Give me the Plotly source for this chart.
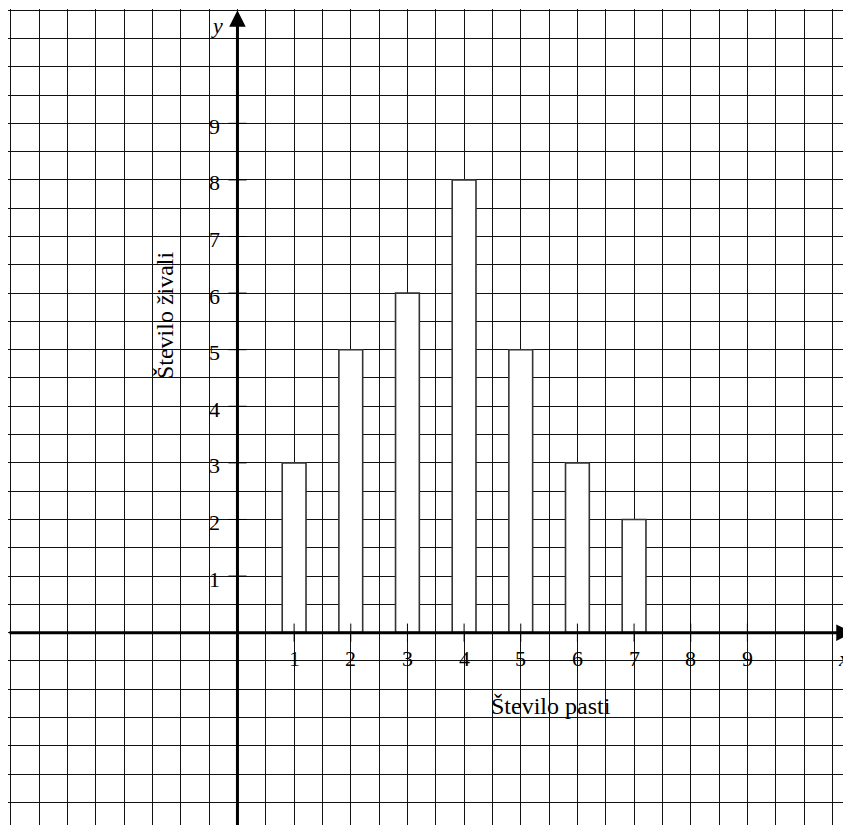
import plotly.graph_objects as go

# data
traps = [1, 2, 3, 4, 5, 6, 7]
animals = [3, 5, 6, 8, 5, 3, 2]
tick_labels = ["1", "2", "3", "4", "5", "6", "7", "8", "9"]
tick_pos = [1, 2, 3, 4, 5, 6, 7, 8, 9]

x_title = "Število pasti"
y_title = "Število živali"

# page has an 8px body margin, so the plot starts at page x=8, y=9
x_range = [-4.05, 10.97]
y_range = [-3.54, 11.02]

serif = "Liberation Serif, DejaVu Serif, serif"

fig = go.Figure()

fig.add_trace(go.Bar(
    x=traps, y=animals, width=0.42,
    marker=dict(color="white", line=dict(color="#333", width=1.6)),
    hoverinfo="x+y",
))

# small tick marks crossing the axes
fig.add_trace(go.Scatter(
    x=tick_pos, y=[0] * len(tick_pos), mode="markers",
    marker=dict(symbol="line-ns", size=13, line=dict(color="black", width=1)),
    hoverinfo="skip",
))
fig.add_trace(go.Scatter(
    x=[0] * len(tick_pos), y=tick_pos, mode="markers",
    marker=dict(symbol="line-ew", size=13, line=dict(color="black", width=1)),
    hoverinfo="skip",
))

annotations = []

# axes with arrows
annotations.append(dict(x=0, y=11.0, ax=0, ay=y_range[0], xref="x", yref="y",
                        axref="x", ayref="y", text="", showarrow=True,
                        arrowhead=2, arrowsize=1.1, arrowwidth=3, arrowcolor="black"))
annotations.append(dict(x=10.86, y=0, ax=x_range[0], ay=0, xref="x", yref="y",
                        axref="x", ayref="y", text="", showarrow=True,
                        arrowhead=2, arrowsize=1.1, arrowwidth=3, arrowcolor="black"))

# tick labels
for p, t in zip(tick_pos, tick_labels):
    annotations.append(dict(x=p, y=0, text=t, showarrow=False, yshift=-26,
                            font=dict(family=serif, size=22, color="black")))
    annotations.append(dict(x=0, y=p, text=t, showarrow=False, xshift=-23, yshift=-3,
                            font=dict(family=serif, size=22, color="black")))

# axis titles
annotations.append(dict(x=5.54, y=-1.30, text=x_title, showarrow=False,
                        font=dict(family=serif, size=24, color="black")))
annotations.append(dict(x=-1.28, y=5.61, text=y_title, showarrow=False, textangle=-90,
                        font=dict(family=serif, size=24, color="black")))
annotations.append(dict(x=-0.36, y=10.73, text="<i>y</i>", showarrow=False,
                        font=dict(family=serif, size=22, color="black")))
annotations.append(dict(x=10.7, y=-0.45, text="<i>x</i>", showarrow=False,
                        font=dict(family=serif, size=22, color="black")))

fig.update_layout(
    width=851, height=825,
    margin=dict(l=0, t=1, r=0, b=0),
    paper_bgcolor="white", plot_bgcolor="white",
    showlegend=False,
    annotations=annotations,
    xaxis=dict(range=x_range, dtick=0.5, tick0=0, showgrid=True, gridcolor="#111",
               gridwidth=1, zeroline=False, showticklabels=False, ticks="",
               fixedrange=True),
    yaxis=dict(range=y_range, dtick=0.5, tick0=0, showgrid=True, gridcolor="#111",
               gridwidth=1, zeroline=False, showticklabels=False, ticks="",
               fixedrange=True),
)

fig.write_html("out.html")
